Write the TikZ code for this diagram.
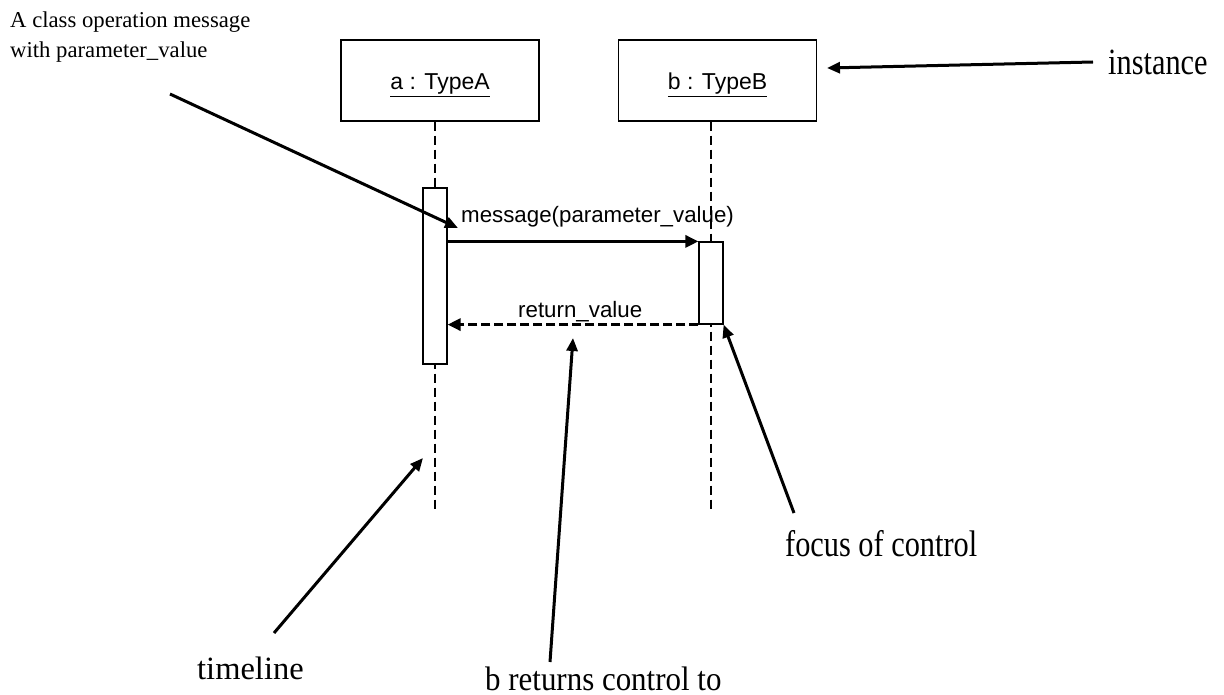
\documentclass[tikz,border=0pt]{standalone}
\usepackage{fontspec}
\setmainfont{Liberation Serif}
\newfontfamily\uisans{Liberation Sans}
\newfontfamily\narrowserif[FakeStretch=0.82]{Liberation Serif}
\newfontfamily\semiserif[FakeStretch=0.91]{Liberation Serif}
\usetikzlibrary{arrows.meta}

\begin{document}
\begin{tikzpicture}[x=1pt,y=-1pt,
  objbox/.style={draw, line width=1.2pt, fill=white, minimum width=198pt,
    minimum height=81pt, inner sep=0pt, text height=19pt, text depth=0pt,
    font=\uisans\fontsize{23}{26}\selectfont},
  actbox/.style={draw, line width=1.2pt, fill=white, minimum width=24pt, inner sep=0pt},
  lifeline/.style={line width=1.1pt, dash pattern=on 9pt off 5pt},
  call/.style={line width=3pt, -{Triangle[length=13pt,width=12pt]}},
  reply/.style={line width=3pt, dash pattern=on 9pt off 4pt, -{Triangle[length=13pt,width=12pt]}},
  note/.style={line width=3pt, -{Triangle[length=13pt,width=11pt]}},
  notetext/.style={inner sep=0pt, anchor=base west, font=\narrowserif\fontsize{37}{37}\selectfont},
  msgtext/.style={inner sep=0pt, anchor=base west, font=\uisans\fontsize{22.3}{24}\selectfont}]

\useasboundingbox (0,0) rectangle (1224,695);

% lifeline ends
\coordinate (enda) at (435,512);
\coordinate (endb) at (711,512);

% objects
\node[objbox] (boxa) at (440,80.5) {\underline{a : TypeA}};
\node[objbox] (boxb) at (717.5,80.5) {\underline{b : TypeB}};

% timelines
\draw[lifeline] (boxa.south -| enda) -- (enda);
\draw[lifeline] (boxb.south -| endb) -- (endb);

% activations
\node[actbox, minimum height=176pt] (acta) at (435,276) {};
\node[actbox, minimum height=82pt] (actb) at (711,283) {};

% call and return
\draw[call] (acta.east |- actb.north) -- (actb.north west);
\draw[reply] (actb.south west) -- (acta.east |- actb.south);
\node[msgtext] (msg) at (461,223) {message(parameter\_value)};
\node[msgtext] (ret) at (518,317) {return\_value};

% annotations
\node[inner sep=0pt, anchor=north west, align=left,
  font=\fontsize{22.7}{30}\selectfont] (classnote) at (10,12)
  {A class operation message\\with parameter\_value};
\node[notetext] (inst) at (1108,75) {instance};
\node[notetext, font=\fontsize{32.5}{33}\selectfont] (tline) at (197,679) {timeline};
\node[notetext, font=\semiserif\fontsize{34}{34}\selectfont] (bret) at (485,690) {b returns control to};
\node[notetext] (focus) at (785,556) {focus of control};

\coordinate (cnFrom) at (170,94);
\coordinate (cnTo) at (458,228);
\coordinate (instFrom) at (1093,62);
\coordinate (instTo) at (827,68);
\coordinate (tlFrom) at (274,633);
\coordinate (tlTo) at (423,458);
\coordinate (brFrom) at (550,662);
\coordinate (brTo) at (573,338);
\coordinate (fcFrom) at (794,513);

\draw[note] (cnFrom) -- (cnTo);
\draw[note] (instFrom) -- (instTo);
\draw[note] (tlFrom) -- (tlTo);
\draw[note] (brFrom) -- (brTo);
\draw[note] (fcFrom) -- (actb.south east);
\end{tikzpicture}
\end{document}
